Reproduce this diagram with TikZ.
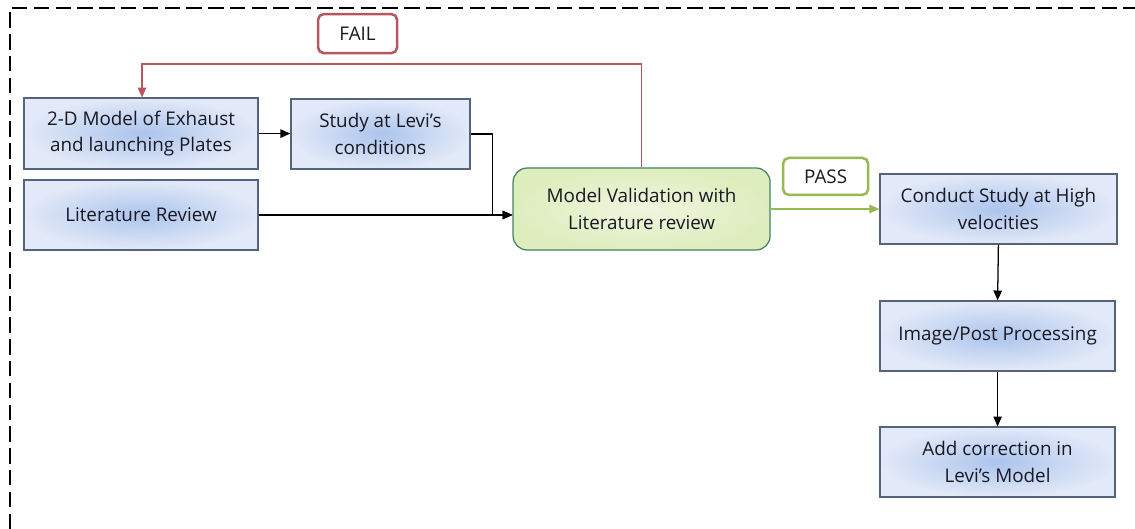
\documentclass[tikz,border=0pt]{standalone}
\usepackage{fontspec}
\setmainfont{Open Sans}
\usetikzlibrary{arrows.meta}
\definecolor{boxline}{RGB}{85,100,125}
\definecolor{boxin}{RGB}{172,196,236}
\definecolor{boxout}{RGB}{226,233,248}
\definecolor{failred}{RGB}{185,85,95}
\definecolor{passgreen}{RGB}{150,185,80}
\definecolor{validin}{RGB}{240,246,222}
\definecolor{validout}{RGB}{222,237,190}
\definecolor{txt}{RGB}{25,25,35}
\begin{document}
\begin{tikzpicture}[
    font = \fontsize{13.4}{19}\selectfont,
    every node/.style = {text = txt, align = center, inner sep = 0pt},
    bluebox/.style = {draw = boxline, line width = 0.9pt, shade, inner color = boxin, outer color = boxout, minimum height = 1.75cm},
    tagbox/.style = {draw, fill = white, line width = 1.8pt, rounded corners = 4pt},
    flow/.style = {line width = 0.9pt, -{Triangle[length = 7pt, width = 6pt]}}
]
    \useasboundingbox (0, 0) rectangle (28.375, -13.225);
    % frame
    \draw[line width = 1.5pt, dash pattern = on 11pt off 4.5pt] (0.25, -13.225) -- (0.25, -0.2) -- (28.375, -0.2);
    % boxes
    \node[bluebox, minimum width = 5.85cm, minimum height = 1.775cm] (model2d) at (3.525, -3.34) {2-D Model of Exhaust\\and launching Plates};
    \node[bluebox, minimum width = 4.475cm] (levi) at (9.51, -3.35) {Study at Levi’s\\conditions};
    \node[bluebox, minimum width = 5.85cm] (litrev) at (3.525, -5.375) {Literature Review};
    \node[draw = boxline!80!green, line width = 0.9pt, rounded corners = 10pt, shade, inner color = validin, outer color = validout,
        minimum width = 6.425cm, minimum height = 2.05cm] (valid) at (16.04, -5.225) {Model Validation with\\Literature review};
    \node[bluebox, minimum width = 5.925cm] (conduct) at (24.96, -5.225) {Conduct Study at High\\velocities};
    \node[bluebox, minimum width = 5.875cm] (image) at (24.94, -8.4) {Image/Post Processing};
    \node[bluebox, minimum width = 5.875cm] (addcorr) at (24.94, -11.55) {Add correction in\\Levi’s Model};
    % tags
    \node[tagbox, draw = failred, minimum width = 1.975cm, minimum height = 0.975cm] (fail) at (8.94, -0.84) {FAIL};
    \node[tagbox, draw = passgreen, minimum width = 2.125cm, minimum height = 0.925cm] (pass) at (20.64, -4.41) {PASS};
    % connectors
    \coordinate (failturn) at (3.55, -1.6);
    \draw[flow, failred] (valid.north) |- (failturn) -- (model2d.north -| failturn);
    \draw[flow] (model2d.east) -- (levi.west |- model2d.east);
    \draw[flow] (levi.east) -- ++(0.55, 0) |- (valid.west |- litrev.east);
    \draw[flow] (litrev.east) -- (valid.west |- litrev.east);
    \draw[flow, passgreen] (valid.east) -- (conduct.west);
    \draw[flow] (conduct.south) -- (image.north);
    \draw[flow] (image.south) -- (addcorr.north);
\end{tikzpicture}
\end{document}
